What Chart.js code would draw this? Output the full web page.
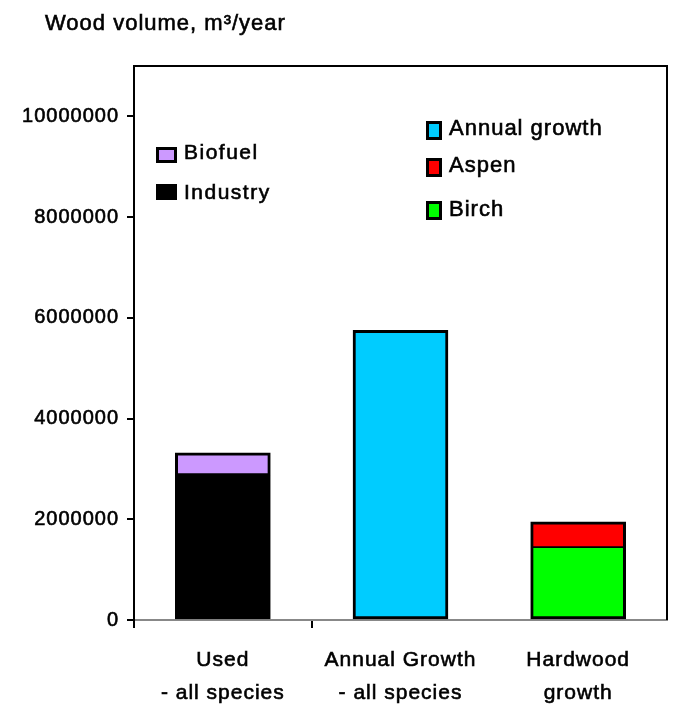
<!DOCTYPE html>
<html>
<head>
<meta charset="utf-8">
<script src="https://cdn.jsdelivr.net/npm/chart.js@4.4.1/dist/chart.umd.min.js"></script>
<style>
  html, body { margin: 0; padding: 0; background: #fff; }
  #wrap { width: 682px; height: 710px; }
</style>
</head>
<body>
<div id="wrap"><canvas id="woodChart" width="682" height="710"></canvas></div>
<script>
// wood volume per year, m3
const categories = [['Used', '- all species'], ['Annual Growth', '- all species'], ['Hardwood', 'growth']];
const industry = [2880000, null, null];
const biofuel = [440000, null, null];
const annualGrowth = [null, 5750000, null];
const birch = [null, null, 1430000];
const aspen = [null, null, 520000];
const yTicks = [0, 2000000, 4000000, 6000000, 8000000, 10000000];
const yMax = 11000000;
const titleText = 'Wood volume, m\u00b3/year';

const FONT = '"Liberation Sans", Arial, sans-serif';
const TEXT_STROKE = 0.6;

// border on the sides of each segment; the top piece also draws the line between segments
const lowerBorder = { top: 0, left: 3, right: 3, bottom: 3 };
const upperBorder = { top: 3, left: 3, right: 3, bottom: 2 };
const fullBorder = { top: 3, left: 3, right: 3, bottom: 3 };

// slightly wider glyph spacing for all canvas text
const spacing = {
  id: 'spacing',
  beforeDraw(chart) { chart.ctx.letterSpacing = '1px'; }
};

function heavyText(ctx, text, x, y) {
  ctx.lineWidth = TEXT_STROKE;
  ctx.strokeStyle = '#000';
  ctx.strokeText(text, x, y);
  ctx.fillText(text, x, y);
}

// frame on top and right of the plot + the heading
const frame = {
  id: 'frame',
  beforeDatasetsDraw(chart) {
    const { ctx, chartArea: a } = chart;
    ctx.save();
    ctx.strokeStyle = '#000';
    ctx.lineWidth = 2;
    ctx.beginPath();
    ctx.moveTo(a.left, a.top);
    ctx.lineTo(a.right, a.top);
    ctx.lineTo(a.right, a.bottom);
    ctx.stroke();
    ctx.restore();
  },
  afterDraw(chart) {
    const ctx = chart.ctx;
    ctx.save();
    ctx.letterSpacing = '1px';
    ctx.fillStyle = '#000';
    ctx.font = '22px ' + FONT;
    ctx.textBaseline = 'alphabetic';
    heavyText(ctx, titleText, 45, 30);
    ctx.restore();
  }
};

// two boxed legends inside the plot
const boxLegend = {
  id: 'boxLegend',
  afterDatasetsDraw(chart) {
    const ctx = chart.ctx;
    const ds = chart.data.datasets;
    const groups = [
      { items: [1, 0], x: 156, tops: [147, 184], base: [159, 199], w: 21, h: 16, tx: 184, size: 21, gap: '1.5px' },
      { items: [2, 4, 3], x: 426, tops: [121, 158, 201], base: [135, 172, 216], w: 16, h: 19, tx: 449, size: 22, gap: '1px' }
    ];
    ctx.save();
    groups.forEach(g => {
      g.items.forEach((di, i) => {
        const y = g.tops[i];
        ctx.fillStyle = ds[di].backgroundColor;
        ctx.fillRect(g.x, y, g.w, g.h);
        ctx.strokeStyle = '#000';
        ctx.lineWidth = 3;
        ctx.strokeRect(g.x + 1.5, y + 1.5, g.w - 3, g.h - 3);
        ctx.fillStyle = '#000';
        ctx.letterSpacing = g.gap;
        ctx.font = g.size + 'px ' + FONT;
        ctx.textBaseline = 'alphabetic';
        heavyText(ctx, ds[di].label, g.tx, g.base[i]);
      });
    });
    ctx.restore();
  }
};

const ctx = document.getElementById('woodChart').getContext('2d');

new Chart(ctx, {
  type: 'bar',
  data: {
    labels: categories,
    datasets: [
      { label: 'Industry', data: industry, backgroundColor: '#000000', borderWidth: lowerBorder },
      { label: 'Biofuel', data: biofuel, backgroundColor: '#cc99ff', borderWidth: upperBorder },
      { label: 'Annual growth', data: annualGrowth, backgroundColor: '#00ccff', borderWidth: fullBorder },
      { label: 'Birch', data: birch, backgroundColor: '#00ff00', borderWidth: lowerBorder },
      { label: 'Aspen', data: aspen, backgroundColor: '#ff0000', borderWidth: upperBorder }
    ]
  },
  options: {
    responsive: false,
    animation: false,
    devicePixelRatio: 1,
    layout: { padding: { top: 66, right: 15, left: 0, bottom: 0 } },
    datasets: {
      bar: { borderColor: '#000', borderSkipped: false, barThickness: 95 }
    },
    plugins: {
      legend: { display: false },
      title: { display: false },
      tooltip: { enabled: false }
    },
    scales: {
      x: {
        stacked: true,
        border: { display: true, color: '#888', width: 2 },
        grid: {
          drawOnChartArea: false,
          tickLength: 8,
          lineWidth: 2,
          color: c => (c.index <= 1 ? '#000' : 'rgba(0,0,0,0)')
        },
        ticks: {
          color: '#000',
          textStrokeColor: '#000',
          textStrokeWidth: TEXT_STROKE,
          padding: 16,
          font: { family: FONT, size: 21, lineHeight: 1.55 },
          maxRotation: 0,
          autoSkip: false
        },
        afterFit(scale) { scale.height = 90; }
      },
      y: {
        stacked: true,
        min: 0,
        max: yMax,
        border: { display: true, color: '#000', width: 2 },
        grid: { drawOnChartArea: false, tickLength: 7, lineWidth: 2, color: '#000' },
        afterBuildTicks(scale) { scale.ticks = yTicks.map(v => ({ value: v })); },
        ticks: {
          color: '#000',
          textStrokeColor: '#000',
          textStrokeWidth: TEXT_STROKE,
          padding: 8,
          font: { family: FONT, size: 20 },
          callback: v => String(v)
        },
        afterFit(scale) { scale.width = 134; }
      }
    }
  },
  plugins: [spacing, frame, boxLegend]
});
</script>
</body>
</html>
